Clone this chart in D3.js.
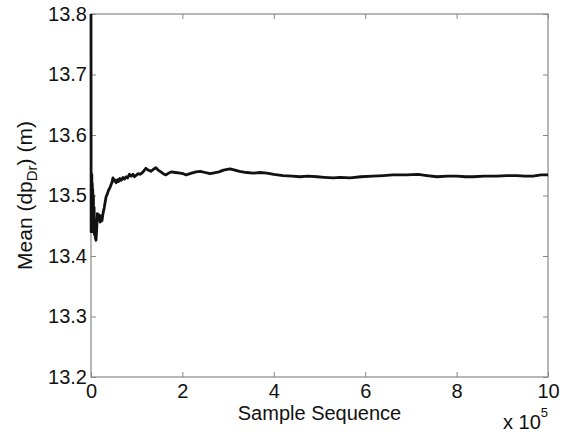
<!DOCTYPE html>
<html>
<head>
<meta charset="utf-8">
<script src="https://cdn.jsdelivr.net/npm/d3@7"></script>
<style>
  body { margin: 0; background: #fff; }
  text { font-family: "Liberation Sans", Arial, sans-serif; fill: #111; }
</style>
</head>
<body>
<svg></svg>
<script>
//  data (x in units of 1e5 samples)
var sampleX = [0, 0.003, 0.008, 0.013, 0.018, 0.023, 0.028, 0.033, 0.038, 0.045, 0.052, 0.06, 0.068, 0.076,
    0.085, 0.095, 0.11, 0.125, 0.14, 0.16, 0.18, 0.2, 0.22, 0.24, 0.26, 0.29, 0.33, 0.36, 0.38, 0.42,
    0.44, 0.46, 0.48, 0.5, 0.52, 0.55, 0.58, 0.6, 0.63, 0.66, 0.7, 0.73, 0.77, 0.8, 0.84, 0.88,
    0.92, 0.95, 0.98, 1.03, 1.08, 1.14, 1.2, 1.25, 1.31, 1.36, 1.42, 1.47, 1.53, 1.58, 1.64, 1.7,
    1.75, 1.85, 1.95, 2.02, 2.08, 2.2, 2.3, 2.39, 2.5, 2.6, 2.67, 2.8, 2.9, 3.04, 3.15, 3.25,
    3.41, 3.55, 3.7, 3.85, 4.0, 4.2, 4.4, 4.57, 4.75, 4.95, 5.1, 5.3, 5.45, 5.67, 5.9, 6.17,
    6.4, 6.6, 6.9, 7.16, 7.35, 7.57, 7.8, 8.0, 8.2, 8.36, 8.6, 8.88, 9.1, 9.32, 9.5, 9.67, 9.85, 10];
var meanDp = [13.8, 13.44, 13.53, 13.46, 13.535, 13.45, 13.52, 13.44, 13.51, 13.45, 13.50, 13.44, 13.48, 13.435,
    13.46, 13.43, 13.426, 13.445, 13.47, 13.46, 13.468, 13.456, 13.466, 13.458, 13.469, 13.48, 13.498, 13.503, 13.508, 13.514,
    13.518, 13.522, 13.529, 13.524, 13.526, 13.521, 13.526, 13.523, 13.528, 13.525, 13.53, 13.527, 13.531, 13.529, 13.535, 13.532,
    13.535, 13.531, 13.533, 13.536, 13.535, 13.539, 13.545, 13.542, 13.54, 13.543, 13.546, 13.542, 13.539, 13.536, 13.534, 13.537,
    13.539, 13.538, 13.537, 13.536, 13.534, 13.537, 13.539, 13.54, 13.538, 13.536, 13.537, 13.539, 13.542, 13.544, 13.542, 13.54,
    13.538, 13.537, 13.538, 13.537, 13.535, 13.533, 13.532, 13.531, 13.532, 13.531, 13.53, 13.529, 13.53, 13.529, 13.531, 13.532,
    13.533, 13.534, 13.534, 13.535, 13.533, 13.531, 13.532, 13.532, 13.531, 13.531, 13.532, 13.532, 13.533, 13.533, 13.532, 13.532, 13.534, 13.534];
var xTicks = [0, 2, 4, 6, 8, 10];
var yTicks = [13.2, 13.3, 13.4, 13.5, 13.6, 13.7, 13.8];

var width = 565, height = 434;
var margin = {left: 91, right: 17, top: 14, bottom: 57};

var svg = d3.select("svg").attr("width", width).attr("height", height);

var x = d3.scaleLinear().domain([0, 10]).range([margin.left, width - margin.right]);
var y = d3.scaleLinear().domain([13.2, 13.8]).range([height - margin.bottom, margin.top]);

var axisColor = "#888";

//  box
svg.append("rect")
    .attr("x", x(0)).attr("y", y(13.8))
    .attr("width", x(10) - x(0)).attr("height", y(13.2) - y(13.8))
    .attr("fill", "none").attr("stroke", axisColor).attr("stroke-width", 1.2);

//  axes, ticks pointing inward on all four sides
function styleAxis(g) {
    g.select(".domain").remove();
    g.selectAll(".tick line").attr("stroke", axisColor);
    g.selectAll(".tick text").style("font-size", "20px").attr("fill", "#111");
}

svg.append("g")
    .attr("transform", "translate(0," + y(13.2) + ")")
    .call(d3.axisBottom(x).tickValues(xTicks).tickSize(-5).tickPadding(7).tickFormat(d3.format("d")))
    .call(styleAxis);

svg.append("g")
    .attr("transform", "translate(0," + y(13.8) + ")")
    .call(d3.axisTop(x).tickValues(xTicks).tickSize(-5).tickFormat(""))
    .call(styleAxis);

svg.append("g")
    .attr("transform", "translate(" + x(0) + ",0)")
    .call(d3.axisLeft(y).tickValues(yTicks).tickSize(-5).tickPadding(4).tickFormat(d3.format(".1f")))
    .call(styleAxis);

svg.append("g")
    .attr("transform", "translate(" + x(10) + ",0)")
    .call(d3.axisRight(y).tickValues(yTicks).tickSize(-5).tickFormat(""))
    .call(styleAxis);

//  data line
var line = d3.line()
    .x(function(d, i) { return x(sampleX[i]); })
    .y(function(d) { return y(d); });

svg.append("path")
    .datum(meanDp)
    .attr("d", line)
    .attr("fill", "none")
    .attr("stroke", "#111")
    .attr("stroke-width", 2.8)
    .attr("stroke-linejoin", "round");

//  labels
svg.append("text")
    .attr("x", (x(0) + x(10)) / 2).attr("y", 420)
    .attr("text-anchor", "middle")
    .style("font-size", "20px")
    .text("Sample Sequence");

var expo = svg.append("text")
    .attr("x", 503).attr("y", 429)
    .style("font-size", "20px");
expo.append("tspan").text("x 10");
expo.append("tspan").attr("dy", -12).style("font-size", "13px").text("5");

var ylab = svg.append("text")
    .attr("transform", "translate(32," + ((y(13.2) + y(13.8)) / 2) + ") rotate(-90)")
    .attr("text-anchor", "middle")
    .style("font-size", "21px");
ylab.append("tspan").text("Mean (dp");
ylab.append("tspan").attr("dy", 5).style("font-size", "15px").text("Dr");
ylab.append("tspan").attr("dy", -5).text(") (m)");
</script>
</body>
</html>
